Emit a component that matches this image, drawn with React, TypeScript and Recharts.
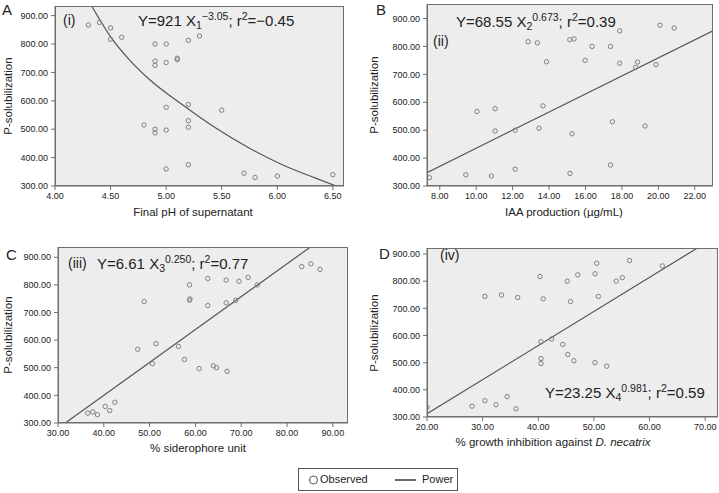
import React from 'react'
import { ComposedChart, Scatter, Line, XAxis, YAxis, CartesianGrid } from 'recharts'

// Observed P-solubilization values against four predictors, with the fitted power curves.

const pSolTicks = [300, 400, 500, 600, 700, 800, 900]
const phTicks = [4.0, 4.5, 5.0, 5.5, 6.0, 6.5]
const iaaTicks = [8, 10, 12, 14, 16, 18, 20, 22]
const sidTicks = [30, 40, 50, 60, 70, 80, 90]
const inhTicks = [20, 30, 40, 50, 60, 70]

// (i) final pH of supernatant
const phX = [4.3, 4.4, 4.5, 4.5, 4.6, 4.9, 5.0, 5.2, 5.3, 4.9, 4.9, 5.0, 5.1, 5.1, 5.0, 5.2, 5.5, 5.2, 5.2, 4.8, 4.9, 4.9, 5.0, 5.0, 5.2, 5.7, 5.8, 6.0, 6.5]
const phY = [867, 876, 857, 817, 824, 800, 800, 813, 828, 740, 725, 735, 750, 745, 577, 587, 567, 530, 507, 515, 500, 487, 497, 360, 375, 345, 330, 335, 340]
const phFitX = [4.33, 4.51, 4.68, 4.85, 5.15, 5.45, 5.75, 6.05, 6.35, 6.53]
const phFitY = [934, 820, 740, 675, 585, 503, 433, 374, 327, 300]

// (ii) IAA production
const iaaX = [20.09, 20.87, 17.88, 15.14, 15.37, 12.85, 13.36, 16.36, 17.37, 13.86, 15.98, 17.88, 18.86, 18.75, 19.87, 13.67, 10.04, 11.04, 11.04, 12.14, 13.45, 15.26, 17.48, 19.27, 17.37, 12.14, 15.15, 9.43, 10.84, 7.44]
const iaaY = [876, 866, 856, 824, 827, 817, 813, 800, 800, 745, 750, 740, 744, 725, 735, 587, 567, 577, 497, 500, 507, 487, 530, 515, 375, 360, 345, 340, 336, 330]
const iaaFitX = [7.3, 23.0]
const iaaFitY = [348, 856]

// (iii) % siderophore unit
const sidX = [83.2, 85.2, 87.2, 58.7, 62.7, 66.7, 69.5, 71.5, 73.5, 48.8, 58.8, 58.7, 62.7, 66.7, 68.8, 47.4, 51.4, 56.3, 57.6, 50.6, 60.8, 63.9, 64.6, 66.9, 36.5, 37.6, 38.6, 40.3, 41.3, 42.4]
const sidY = [866, 876, 856, 800, 823, 817, 813, 827, 800, 740, 749, 744, 725, 735, 744, 567, 587, 577, 530, 515, 497, 507, 500, 487, 336, 340, 330, 360, 345, 375]
const sidFitX = [31.6, 85.1]
const sidFitY = [300, 937]

// (iv) % growth inhibition against D. necatrix
const inhX = [20.0, 28.1, 30.4, 32.4, 34.4, 36.0, 30.4, 33.4, 36.3, 40.3, 40.9, 45.2, 47.1, 45.8, 50.2, 50.5, 50.8, 54.0, 55.1, 56.4, 62.3, 40.5, 42.4, 44.4, 45.3, 46.4, 40.5, 40.5, 50.2, 52.3]
const inhY = [336, 340, 360, 345, 375, 330, 744, 749, 740, 817, 735, 800, 823, 725, 827, 866, 744, 800, 813, 876, 856, 577, 587, 567, 530, 507, 515, 497, 500, 487]
const inhFitX = [20.0, 68.6]
const inhFitY = [312, 922]

const font = '"Liberation Sans", Arial, sans-serif'
const ink = '#222'
const plotBg = '#ededed'
const frame = '#6e6e6e'
const ringColor = '#808080'
const fitColor = '#555'

const zip = (xs: number[], ys: number[]) => xs.map((x, i) => ({ x, y: ys[i] }))
const fmt = (v: number) => v.toFixed(2)

const Ring = (props: any) => {
  const { cx, cy } = props
  if (cx == null || cy == null) return <g />
  return <circle cx={cx} cy={cy} r={2.2} fill="none" stroke={ringColor} strokeWidth={1} />
}

type PanelProps = {
  left: number
  top: number
  width: number
  height: number
  margin: { top: number; right: number; bottom: number; left: number }
  yAxisWidth: number
  xDomain: [number, number]
  yDomain: [number, number]
  xTicks: number[]
  points: { x: number; y: number }[]
  fit: { x: number; y: number }[]
  curved?: boolean
}

const X_AXIS_H = 20

function Panel(p: PanelProps) {
  const boxLeft = p.margin.left + p.yAxisWidth
  const boxW = p.width - boxLeft - p.margin.right
  const boxH = p.height - p.margin.top - p.margin.bottom - X_AXIS_H
  const tick = { fill: ink, fontSize: 9, fontFamily: font }
  return (
    <div style={{ position: 'absolute', left: p.left, top: p.top, width: p.width, height: p.height }}>
      <ComposedChart width={p.width} height={p.height} margin={p.margin}>
        <CartesianGrid fill={plotBg} horizontal={false} vertical={false} stroke="none" />
        <XAxis
          type="number"
          dataKey="x"
          domain={p.xDomain}
          ticks={p.xTicks}
          interval={0}
          allowDataOverflow
          height={X_AXIS_H}
          tickFormatter={fmt}
          tick={tick}
          tickSize={4}
          tickMargin={3}
          stroke={frame}
        />
        <YAxis
          type="number"
          dataKey="y"
          domain={p.yDomain}
          ticks={pSolTicks}
          interval={0}
          allowDataOverflow
          width={p.yAxisWidth}
          tickFormatter={fmt}
          tick={tick}
          tickSize={4}
          tickMargin={3}
          stroke={frame}
        />
        <Scatter data={p.points} dataKey="y" shape={Ring} isAnimationActive={false} />
        <Line
          data={p.fit}
          dataKey="y"
          type={p.curved ? 'monotone' : 'linear'}
          stroke={fitColor}
          strokeWidth={1.2}
          dot={false}
          activeDot={false}
          isAnimationActive={false}
        />
      </ComposedChart>
      <div
        style={{
          position: 'absolute',
          left: boxLeft,
          top: p.margin.top,
          width: boxW,
          height: boxH,
          border: `1px solid ${frame}`,
          boxSizing: 'border-box',
          pointerEvents: 'none',
        }}
      />
    </div>
  )
}

const txt = (left: number, top: number, size: number, extra: React.CSSProperties = {}): React.CSSProperties => ({
  position: 'absolute',
  left,
  top,
  fontSize: size,
  fontFamily: font,
  color: ink,
  whiteSpace: 'nowrap',
  lineHeight: 1,
  ...extra,
})

const centered = (cx: number, cy: number, size: number, rotate = false): React.CSSProperties =>
  txt(cx, cy, size, { transform: `translate(-50%, -50%)${rotate ? ' rotate(-90deg)' : ''}` })

const sup: React.CSSProperties = { fontSize: '0.7em', verticalAlign: '0.55em' }
const sub: React.CSSProperties = { fontSize: '0.7em', verticalAlign: '-0.3em' }

export default function App() {
  return (
    <div style={{ position: 'absolute', left: 0, top: 0, width: 719, height: 493, background: '#fff', overflow: 'hidden' }}>
      <Panel
        left={0}
        top={0}
        width={360}
        height={230}
        margin={{ top: 6, right: 16, bottom: 24, left: 10 }}
        yAxisWidth={45}
        xDomain={[4.0, 6.6]}
        yDomain={[300, 934]}
        xTicks={phTicks}
        points={zip(phX, phY)}
        fit={zip(phFitX, phFitY)}
        curved
      />
      <Panel
        left={360}
        top={0}
        width={359}
        height={230}
        margin={{ top: 4, right: 6, bottom: 24, left: 11 }}
        yAxisWidth={56}
        xDomain={[7.3, 23.0]}
        yDomain={[300, 952]}
        xTicks={iaaTicks}
        points={zip(iaaX, iaaY)}
        fit={zip(iaaFitX, iaaFitY)}
      />
      <Panel
        left={0}
        top={240}
        width={360}
        height={220}
        margin={{ top: 7, right: 12, bottom: 17, left: 10 }}
        yAxisWidth={48}
        xDomain={[30, 93.3]}
        yDomain={[300, 937]}
        xTicks={sidTicks}
        points={zip(sidX, sidY)}
        fit={zip(sidFitX, sidFitY)}
      />
      <Panel
        left={360}
        top={240}
        width={359}
        height={220}
        margin={{ top: 8, right: 1, bottom: 23, left: 11 }}
        yAxisWidth={56}
        xDomain={[20, 72.3]}
        yDomain={[300, 922]}
        xTicks={inhTicks}
        points={zip(inhX, inhY)}
        fit={zip(inhFitX, inhFitY)}
      />

      {/* panel letters */}
      <div style={txt(2, 2, 15)}>A</div>
      <div style={txt(376, 2, 15)}>B</div>
      <div style={txt(6, 247, 15)}>C</div>
      <div style={txt(379, 246, 15)}>D</div>

      {/* y axis titles */}
      <div style={centered(9, 96, 11.5, true)}>P-solubilization</div>
      <div style={centered(375, 95, 11.5, true)}>P-solubilization</div>
      <div style={centered(9, 335, 11.5, true)}>P-solubilization</div>
      <div style={centered(375, 333, 11.5, true)}>P-solubilization</div>

      {/* x axis titles */}
      <div style={centered(193, 213, 11.5)}>Final pH of supernatant</div>
      <div style={centered(564, 213, 11.5)}>IAA production (µg/mL)</div>
      <div style={centered(198, 449, 11.5)}>% siderophore unit</div>
      <div style={centered(553, 443, 11.5)}>
        % growth inhibition against <i>D. necatrix</i>
      </div>

      {/* panel tags and fitted equations */}
      <div style={txt(63, 13, 14)}>(i)</div>
      <div style={txt(138, 11, 15)}>
        Y=921 X<span style={sub}>1</span>
        <span style={sup}>−3.05</span>; r<span style={sup}>2</span>=−0.45
      </div>
      <div style={txt(433, 34, 14)}>(ii)</div>
      <div style={txt(456, 12, 15)}>
        Y=68.55 X<span style={sub}>2</span>
        <span style={sup}>0.673</span>; r<span style={sup}>2</span>=0.39
      </div>
      <div style={txt(68, 256, 14)}>(iii)</div>
      <div style={txt(97, 254, 15)}>
        Y=6.61 X<span style={sub}>3</span>
        <span style={sup}>0.250</span>; r<span style={sup}>2</span>=0.77
      </div>
      <div style={txt(440, 248, 14)}>(iv)</div>
      <div style={txt(545, 383, 15)}>
        Y=23.25 X<span style={sub}>4</span>
        <span style={sup}>0.981</span>; r<span style={sup}>2</span>=0.59
      </div>

      {/* legend */}
      <div
        style={{
          position: 'absolute',
          left: 298,
          top: 468,
          width: 160,
          height: 23,
          border: '1px solid #555',
          boxSizing: 'border-box',
          fontFamily: font,
          fontSize: 11,
          color: ink,
        }}
      >
        <svg width={160} height={21} style={{ position: 'absolute', left: 0, top: 0 }}>
          <circle cx={14.5} cy={11} r={4} fill="none" stroke="#555" strokeWidth={1} />
          <line x1={96} y1={11} x2={117} y2={11} stroke="#333" strokeWidth={1.5} />
        </svg>
        <span style={{ position: 'absolute', left: 21, top: 4 }}>Observed</span>
        <span style={{ position: 'absolute', left: 123, top: 4 }}>Power</span>
      </div>
    </div>
  )
}
